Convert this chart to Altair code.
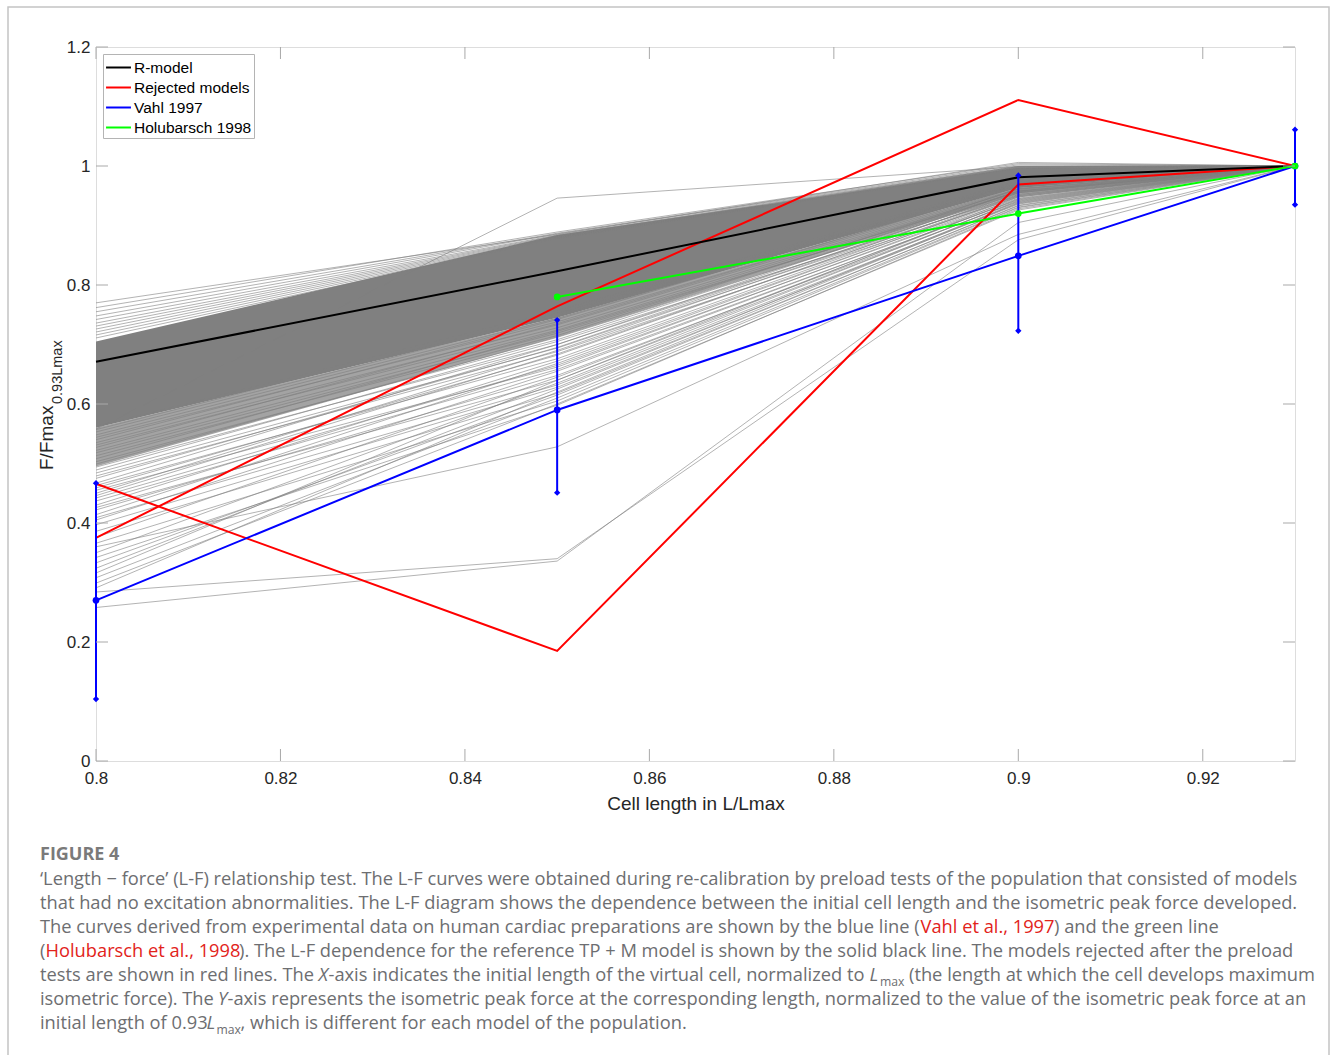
import altair as alt
import pandas as pd

# Cell lengths (L/Lmax) at which every model is evaluated
lengths = [0.80, 0.85, 0.90, 0.93]

# Reference TP+M model and the two rejected models
r_model = [0.671, 0.823, 0.981, 1.0]
rejected_1 = [0.375, 0.764, 1.111, 1.0]
rejected_2 = [0.466, 0.185, 0.969, 1.0]

# Experimental data, Vahl 1997: mean and error-bar limits
vahl_mean = [0.270, 0.590, 0.849, 1.0]
vahl_low = [0.104, 0.451, 0.723, 0.935]
vahl_high = [0.467, 0.741, 0.984, 1.061]

# Experimental data, Holubarsch 1998
holub_lengths = [0.85, 0.90, 0.93]
holub_mean = [0.780, 0.920, 1.0]

# Densest part of the model population (fully covered) and its looser fringe
core_low = [0.560, 0.745, 0.963, 1.0]
core_high = [0.705, 0.884, 0.997, 1.0]
fringe_low = [0.495, 0.712, 0.954, 1.0]

# Individual population curves: force at 0.80, 0.85 and 0.90 (1.0 at 0.93)
pop_080 = [0.770, 0.762, 0.755, 0.748, 0.742, 0.736, 0.731, 0.726, 0.721, 0.716, 0.711,
           0.558,
           0.562, 0.557, 0.553, 0.548, 0.544, 0.540, 0.535, 0.531, 0.527, 0.522,
           0.518, 0.513, 0.508, 0.503, 0.499, 0.494, 0.489, 0.484, 0.479,
           0.467, 0.459, 0.450, 0.442, 0.430, 0.422, 0.405, 0.397, 0.366, 0.350,
           0.333, 0.316, 0.299, 0.291,
           0.475, 0.463, 0.455, 0.446, 0.437, 0.426, 0.414, 0.409, 0.386, 0.376,
           0.342, 0.324, 0.308,
           0.360, 0.284, 0.258]
pop_085 = [0.885, 0.889, 0.887, 0.886, 0.884, 0.883, 0.882, 0.881, 0.880, 0.879, 0.878,
           0.946,
           0.757, 0.752, 0.748, 0.744, 0.738, 0.742, 0.733, 0.728, 0.735, 0.724,
           0.719, 0.715, 0.722, 0.708, 0.712, 0.700, 0.705, 0.694, 0.688,
           0.700, 0.682, 0.690, 0.665, 0.672, 0.648, 0.655, 0.628, 0.605, 0.635,
           0.615, 0.640, 0.600, 0.620,
           0.695, 0.676, 0.662, 0.684, 0.658, 0.640, 0.668, 0.632, 0.618, 0.645,
           0.598, 0.625, 0.610,
           0.528, 0.340, 0.336]
pop_090 = [1.006, 1.004, 1.002, 1.000, 0.999, 0.999, 0.998, 0.998, 0.997, 0.997, 0.996,
           0.999,
           0.975, 0.972, 0.970, 0.968, 0.966, 0.971, 0.964, 0.962, 0.967, 0.960,
           0.958, 0.961, 0.956, 0.957, 0.953, 0.955, 0.950, 0.952, 0.948,
           0.962, 0.955, 0.958, 0.946, 0.950, 0.940, 0.944, 0.936, 0.930, 0.942,
           0.934, 0.948, 0.926, 0.938,
           0.958, 0.952, 0.949, 0.954, 0.943, 0.941, 0.951, 0.937, 0.933, 0.945,
           0.928, 0.939, 0.931,
           0.885, 0.876, 0.905]

x_ticks = [0.80, 0.82, 0.84, 0.86, 0.88, 0.90, 0.92]
y_ticks = [0.0, 0.2, 0.4, 0.6, 0.8, 1.0, 1.2]

series_names = ["R-model", "Rejected models", "Vahl 1997", "Holubarsch 1998"]
series_colors = ["#000000", "#ff0000", "#0000ff", "#00ff00"]

# ---------------------------------------------------------------- tables
pop_rows = []
for i, (a, b, c) in enumerate(zip(pop_080, pop_085, pop_090)):
    for x, y in zip(lengths, [a, b, c, 1.0]):
        pop_rows.append({"curve": i, "x": x, "y": y})
pop_df = pd.DataFrame(pop_rows)
core_df = pd.DataFrame({"x": lengths, "y": core_low, "y2": core_high})
fringe_df = pd.DataFrame({"x": lengths, "y": fringe_low, "y2": core_low})


def curve_table(name, curve, xs, ys):
    return pd.DataFrame({"series": name, "curve": curve, "x": xs, "y": ys})


black_df = curve_table("R-model", "r", lengths, r_model)
red_df = pd.concat([curve_table("Rejected models", "a", lengths, rejected_1),
                    curve_table("Rejected models", "b", lengths, rejected_2)])
blue_df = curve_table("Vahl 1997", "v", lengths, vahl_mean)
green_df = curve_table("Holubarsch 1998", "h", holub_lengths, holub_mean)
bars_df = pd.DataFrame({"x": lengths, "y": vahl_low, "y2": vahl_high})
caps_df = pd.DataFrame({"x": lengths + lengths, "y": vahl_low + vahl_high})
xt_df = pd.DataFrame({"x": x_ticks})
yt_df = pd.DataFrame({"y": y_ticks})

# ---------------------------------------------------------------- styling
FONT = "Liberation Sans"
CAP_FONT = "Open Sans"
AX = "#a9a9a9"
TXT = "#262626"
GRAY = "#808080"
BLUE = "#0000ff"
GREEN = "#00ff00"
W, H = 1199, 714
LEFT, TOP = 96, 47

x_scale = alt.Scale(domain=[0.8, 0.93], nice=False, zero=False)
y_scale = alt.Scale(domain=[0, 1.2], nice=False, zero=False)
x_axis = alt.Axis(values=x_ticks, format=".2~f", ticks=False, domain=False, grid=False,
                  labelFont=FONT, labelFontSize=17, labelColor=TXT, labelPadding=9,
                  labelFlush=False, labelOverlap=False,
                  titleFont=FONT, titleFontSize=19, titleFontWeight="normal",
                  titleColor=TXT, titlePadding=8)
y_axis = alt.Axis(values=y_ticks, format=".1~f", ticks=False, domain=False, grid=False,
                  labelFont=FONT, labelFontSize=17, labelColor=TXT, labelPadding=6,
                  labelFlush=False, labelOverlap=False)


def X():
    return alt.X("x:Q", scale=x_scale, axis=x_axis, title="Cell length in L/Lmax")


def Y():
    return alt.Y("y:Q", scale=y_scale, axis=y_axis, title=None)


legend = alt.Legend(title=None, orient="top-left", offset=7, symbolType="M-1.2,0H1.2",
                    symbolSize=430, symbolStrokeWidth=2, symbolOffset=2,
                    labelFont=FONT, labelFontSize=15.5, labelColor="#000000",
                    labelOffset=4, padding=2, rowPadding=0, strokeColor="#b4b4b4",
                    fillColor="#ffffff")
color = alt.Color("series:N", scale=alt.Scale(domain=series_names, range=series_colors),
                  legend=legend)

layers = []
# population of models
layers.append(alt.Chart(fringe_df).mark_area(color=GRAY, opacity=0.72)
              .encode(x=X(), y=Y(), y2="y2:Q"))
layers.append(alt.Chart(core_df).mark_area(color=GRAY, opacity=1)
              .encode(x=X(), y=Y(), y2="y2:Q"))
layers.append(alt.Chart(pop_df).mark_line(color=GRAY, strokeWidth=0.6)
              .encode(x=X(), y=Y(), detail="curve:N"))
# rejected and reference models
layers.append(alt.Chart(red_df).mark_line(strokeWidth=2)
              .encode(x=X(), y=Y(), color=color, detail="curve:N"))
layers.append(alt.Chart(black_df).mark_line(strokeWidth=2)
              .encode(x=X(), y=Y(), color=color, detail="curve:N"))
# Vahl 1997 with error bars
layers.append(alt.Chart(blue_df).mark_line(strokeWidth=2)
              .encode(x=X(), y=Y(), color=color, detail="curve:N"))
layers.append(alt.Chart(bars_df).mark_rule(color=BLUE, strokeWidth=2)
              .encode(x=X(), y=Y(), y2="y2:Q"))
layers.append(alt.Chart(caps_df).mark_point(shape="diamond", filled=True, size=40,
                                            color=BLUE, opacity=1)
              .encode(x=X(), y=Y()))
layers.append(alt.Chart(blue_df).mark_point(shape="circle", filled=True, size=45,
                                            color=BLUE, opacity=1)
              .encode(x=X(), y=Y()))
# Holubarsch 1998
layers.append(alt.Chart(green_df).mark_line(strokeWidth=2)
              .encode(x=X(), y=Y(), color=color, detail="curve:N"))
layers.append(alt.Chart(green_df).mark_point(shape="circle", filled=True, size=45,
                                             color=GREEN, opacity=1)
              .encode(x=X(), y=Y()))

# inward ticks on all four sides of the box
TL = 12
layers.append(alt.Chart(xt_df).mark_rule(color=AX, strokeWidth=1)
              .encode(x=X(), y=alt.value(H), y2=alt.value(H - TL)))
layers.append(alt.Chart(xt_df).mark_rule(color=AX, strokeWidth=1)
              .encode(x=X(), y=alt.value(0), y2=alt.value(TL)))
layers.append(alt.Chart(yt_df).mark_rule(color=AX, strokeWidth=1)
              .encode(y=Y(), x=alt.value(0), x2=alt.value(TL)))
layers.append(alt.Chart(yt_df).mark_rule(color=AX, strokeWidth=1)
              .encode(y=Y(), x=alt.value(W), x2=alt.value(W - TL)))

one = alt.Data(values=[{}])


def text_at(x, y, s, **kw):
    return alt.Chart(one).mark_text(align="left", baseline="alphabetic", **kw).encode(
        x=alt.value(x - LEFT), y=alt.value(y - TOP), text=alt.value(s))


# y-axis title with subscript
layers.append(text_at(53, 470, "F/Fmax", angle=270, font=FONT, fontSize=19, color=TXT))
layers.append(text_at(61.5, 404, "0.93Lmax", angle=270, font=FONT, fontSize=14.5, color=TXT))

# figure frame
layers.append(alt.Chart(one).mark_rect(filled=False, stroke="#c4c4c4", strokeWidth=1.5)
              .encode(x=alt.value(8 - LEFT), x2=alt.value(1329 - LEFT),
                      y=alt.value(7 - TOP), y2=alt.value(1075 - TOP)))

# caption (segments: left x, text, style overrides)
CAP = "#6d6e71"
RED = "#e2231a"
CS = 18.3
SUB = {"fontSize": 12.2, "dy": 5}
ITAL = {"fontStyle": "italic"}
cap_lines = [
    [(40, "‘Length − force’ (L-F) relationship test. The L-F curves were obtained during "
          "re-calibration by preload tests of the population that consisted of models", {})],
    [(40, "that had no excitation abnormalities. The L-F diagram shows the dependence "
          "between the initial cell length and the isometric peak force developed.", {})],
    [(40, "The curves derived from experimental data on human cardiac preparations are "
          "shown by the blue line (", {}),
     (920.5, "Vahl et al., 1997", {"color": RED}),
     (1054, ") and the green line", {})],
    [(40, "(", {}),
     (45.5, "Holubarsch et al., 1998", {"color": RED}),
     (239, "). The L-F dependence for the reference TP + M model is shown by the solid "
           "black line. The models rejected after the preload", {})],
    [(40, "tests are shown in red lines. The", {}),
     (318.5, "X", ITAL),
     (328.5, "-axis indicates the initial length of the virtual cell, normalized to", {}),
     (869.5, "L", ITAL),
     (880, "max", SUB),
     (909, "(the length at which the cell develops maximum", {})],
    [(40, "isometric force). The", {}),
     (218, "Y", ITAL),
     (227.5, "-axis represents the isometric peak force at the corresponding length, "
             "normalized to the value of the isometric peak force at an", {})],
    [(40, "initial length of 0.93", {}),
     (206.5, "L", ITAL),
     (216.5, "max", SUB),
     (240.5, ", which is different for each model of the population.", {})],
]
layers.append(text_at(40, 860, "FIGURE 4", font=CAP_FONT, fontSize=18, fontWeight="bold",
                      color="#7a7a7a"))
for k, segs in enumerate(cap_lines):
    base = 885 + 24 * k
    for x0, s, kw in segs:
        opts = {"font": CAP_FONT, "fontSize": CS, "color": CAP}
        opts.update(kw)
        layers.append(text_at(x0, base, s, **opts))

chart = alt.layer(*layers).properties(
    width=W, height=H,
    padding={"left": LEFT, "top": TOP, "right": 1333 - LEFT - W, "bottom": 1055 - TOP - H},
    autosize=alt.AutoSizeParams(type="none"),
).configure_view(stroke=AX, strokeWidth=1).configure(background="white")

chart.save("out.html", embed_options={"renderer": "svg", "actions": False})
